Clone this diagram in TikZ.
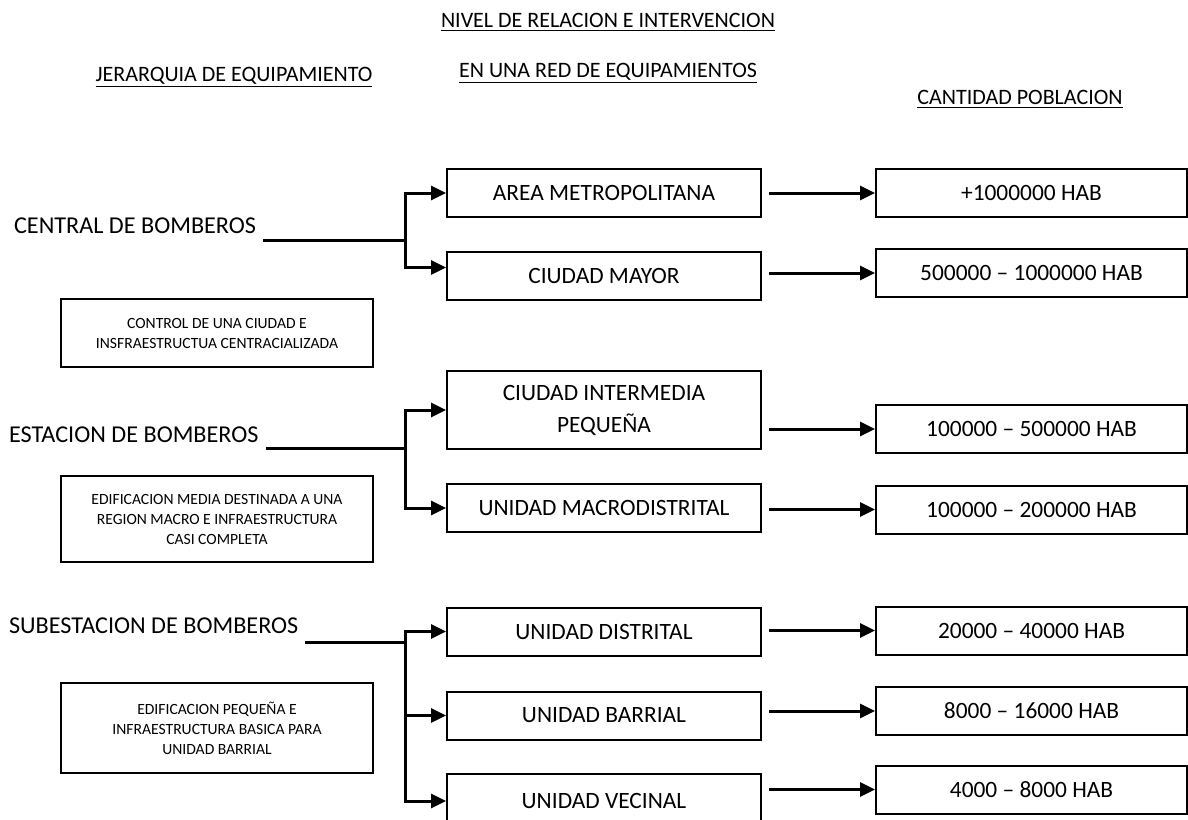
\documentclass[tikz,border=0pt]{standalone}
\usepackage{fontspec}
\setmainfont{Carlito}
\usetikzlibrary{arrows.meta, positioning}
\tikzset{arrow/.style={-{Triangle[length=7.5pt, width=7pt]}, line width=1.5pt}}
\tikzset{joint/.style={line width=1.5pt}}

\begin{document}
\begin{tikzpicture}[x=0.5pt, y=-0.5pt, every node/.style={align=center},
    unitbox/.style={rectangle, draw, line width=1pt, minimum width=157pt, minimum height=24pt,
      font=\fontsize{11.7}{16}\selectfont},
    popbox/.style={unitbox, minimum width=155.5pt},
    notebox/.style={rectangle, draw, line width=1pt, minimum width=156pt,
      font=\fontsize{7.8}{10}\selectfont},
    level/.style={font=\fontsize{12.1}{14}\selectfont},
    heading/.style={font=\fontsize{11}{13}\selectfont}
  ]
    \useasboundingbox (0,0) rectangle (1188,819);

    % titulos
    \node[heading, anchor=base] (t1) at (608,27) {\underline{NIVEL DE RELACION E INTERVENCION}};
    \node[heading, anchor=base] (t2) at (608,77) {\underline{EN UNA RED DE EQUIPAMIENTOS}};
    \node[heading, anchor=base] (t3) at (234,81) {\underline{JERARQUIA DE EQUIPAMIENTO}};
    \node[heading, anchor=base] (t4) at (1020,104) {\underline{CANTIDAD POBLACION}};

    % jerarquia
    \node[level, anchor=base west] (cb) at (7,233) {CENTRAL DE BOMBEROS};
    \node[level, anchor=base west] (eb) at (2,442) {ESTACION DE BOMBEROS};
    \node[level, anchor=base west] (sb) at (2,633) {SUBESTACION DE BOMBEROS};
    \coordinate (j1) at (405,240);
    \coordinate (j2) at (405,448);
    \coordinate (j3) at (405,642);

    \node[notebox, minimum height=34pt] (n1) at (217,333) {CONTROL DE UNA CIUDAD E\\INSFRAESTRUCTUA CENTRACIALIZADA};
    \node[notebox, minimum height=43pt] (n2) at (217,519) {EDIFICACION MEDIA DESTINADA A UNA\\REGION MACRO E INFRAESTRUCTURA\\CASI COMPLETA};
    \node[notebox, minimum height=45pt] (n3) at (217,728) {EDIFICACION PEQUEÑA E\\INFRAESTRUCTURA BASICA PARA\\UNIDAD BARRIAL};

    % nivel de relacion
    \node[unitbox] (am) at (604,193) {AREA METROPOLITANA};
    \node[unitbox] (cm) at (604,275.5) {CIUDAD MAYOR};
    \node[unitbox, minimum height=39pt] (cip) at (604,410) {CIUDAD INTERMEDIA\\PEQUEÑA};
    \node[unitbox] (umd) at (604,508) {UNIDAD MACRODISTRITAL};
    \node[unitbox] (ud) at (604,631.5) {UNIDAD DISTRITAL};
    \node[unitbox] (ub) at (604,715.5) {UNIDAD BARRIAL};
    \node[unitbox, minimum height=27pt] (uv) at (604,801) {UNIDAD VECINAL};

    % poblacion
    \node[popbox] (p1) at (1031.5,193) {+1000000 HAB};
    \node[popbox] (p2) at (1031.5,273) {500000 -- 1000000 HAB};
    \node[popbox] (p3) at (1031.5,429) {100000 -- 500000 HAB};
    \node[popbox] (p4) at (1031.5,509.5) {100000 -- 200000 HAB};
    \node[popbox] (p5) at (1031.5,630.5) {20000 -- 40000 HAB};
    \node[popbox] (p6) at (1031.5,711) {8000 -- 16000 HAB};
    \node[popbox] (p7) at (1031.5,789.5) {4000 -- 8000 HAB};

    % conectores
    \draw[joint] (cb.east |- j1) -- (j1);
    \draw[arrow] (j1) |- (am);
    \draw[arrow] (j1) |- ([yshift=4pt]cm.west);
    \draw[joint] (eb.east |- j2) -- (j2);
    \draw[arrow] (j2) |- (cip);
    \draw[arrow] (j2) |- (umd);
    \draw[joint] (sb.east |- j3) -- (j3);
    \draw[arrow] (j3) |- (ud);
    \draw[arrow] (j3) |- (ub);
    \draw[arrow] (j3) |- (uv);

    \draw[arrow, shorten <=3.5pt] (am.east |- p1.west) -- (p1.west);
    \draw[arrow, shorten <=3.5pt] (cm.east |- p2.west) -- (p2.west);
    \draw[arrow, shorten <=3.5pt] (cip.east |- p3.west) -- (p3.west);
    \draw[arrow, shorten <=3.5pt] (umd.east |- p4.west) -- (p4.west);
    \draw[arrow, shorten <=3.5pt] (ud.east |- p5.west) -- (p5.west);
    \draw[arrow, shorten <=3.5pt] (ub.east |- p6.west) -- (p6.west);
    \draw[arrow, shorten <=3.5pt] (uv.east |- p7.west) -- (p7.west);
\end{tikzpicture}
\end{document}
